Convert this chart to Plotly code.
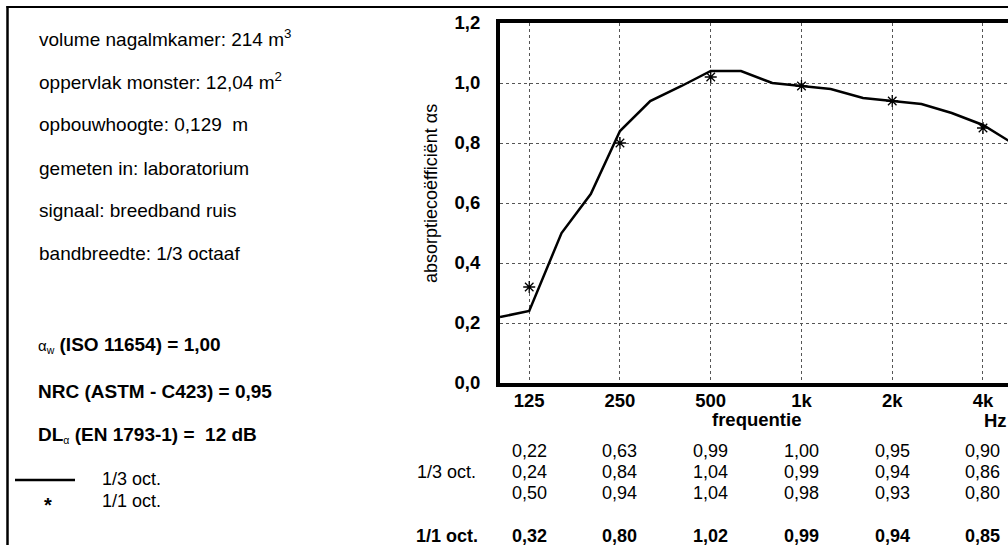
import numpy as np
import plotly.graph_objects as go

# ---------------- data ----------------
freq_third = [100, 125, 160, 200, 250, 315, 400, 500, 630, 800, 1000, 1250,
              1600, 2000, 2500, 3150, 4000, 5000]
alpha_third = [0.22, 0.24, 0.50, 0.63, 0.84, 0.94, 0.99, 1.04, 1.04, 1.00, 0.99,
               0.98, 0.95, 0.94, 0.93, 0.90, 0.86, 0.80]
freq_oct = [125, 250, 500, 1000, 2000, 4000]
alpha_oct = [0.32, 0.80, 1.02, 0.99, 0.94, 0.85]
oct_labels = ["125", "250", "500", "1k", "2k", "4k"]
y_ticks = [0.0, 0.2, 0.4, 0.6, 0.8, 1.0, 1.2]

info_lines = [
    "volume nagalmkamer: 214 m<sup>3</sup>",
    "oppervlak monster: 12,04 m<sup>2</sup>",
    "opbouwhoogte: 0,129 \u00a0m",
    "gemeten in: laboratorium",
    "signaal: breedband ruis",
    "bandbreedte: 1/3 octaaf",
]
rating_lines = [
    "<span style='font-weight:normal;font-size:15px'>\u03b1<sub>w</sub></span><b> (ISO 11654) = 1,00</b>",
    "<b>NRC (ASTM - C423) = 0,95</b>",
    "<b>DL</b><span style='font-size:15px'><sub>\u03b1</sub></span><b> (EN 1793-1) = \u00a012 dB</b>",
]
legend_labels = ["1/3 oct.", "1/1 oct."]

# ---------------- geometry helpers (pixel -> paper) ----------------
W, H = 1008, 545
L, R, T, B = 500, 1008, 23, 383


def px(x):
    return (x - L) / (R - L)


def py(y):
    return (B - y) / (B - T)


FONT = "Liberation Sans, Arial, sans-serif"

fig = go.Figure()
fig.add_trace(go.Scatter(
    x=freq_third, y=alpha_third, mode="lines",
    line=dict(color="black", width=2.5), showlegend=False, hoverinfo="skip"))
fig.add_trace(go.Scatter(
    x=freq_oct, y=alpha_oct, mode="markers",
    marker=dict(symbol="asterisk-open", size=10, color="black",
                line=dict(color="black", width=1.3)),
    showlegend=False, hoverinfo="skip"))

ann = []
# left info panel
info_y = [38, 81, 124, 168, 211, 254]
for t, yy in zip(info_lines, info_y):
    ann.append(dict(text=t, x=px(37), y=py(yy), xref="paper", yref="paper",
                    xanchor="left", yanchor="middle", showarrow=False,
                    font=dict(family=FONT, size=19, color="black")))
rating_y = [345, 392, 435]
for t, yy in zip(rating_lines, rating_y):
    ann.append(dict(text=t, x=px(36), y=py(yy), xref="paper", yref="paper",
                    xanchor="left", yanchor="middle", showarrow=False,
                    font=dict(family=FONT, size=19, color="black")))
# legend texts
for t, yy in zip(legend_labels, [479, 501]):
    ann.append(dict(text=t, x=px(100), y=py(yy), xref="paper", yref="paper",
                    xanchor="left", yanchor="middle", showarrow=False,
                    font=dict(family=FONT, size=18, color="black")))
ann.append(dict(text="<b>*</b>", x=px(48), y=py(505), xref="paper", yref="paper",
                xanchor="center", yanchor="middle", showarrow=False,
                font=dict(family=FONT, size=20, color="black")))

# axis titles
ann.append(dict(text="absorptiecoëfficiënt \u03b1s", x=px(431), y=py(194),
                xref="paper", yref="paper", textangle=-90, showarrow=False,
                xanchor="center", yanchor="middle",
                font=dict(family=FONT, size=18, color="black")))
ann.append(dict(text="<b>frequentie</b>", x=px(756), y=py(419), xref="paper",
                yref="paper", showarrow=False, xanchor="center", yanchor="middle",
                font=dict(family=FONT, size=18.5, color="black")))
ann.append(dict(text="<b>Hz</b>", x=px(995), y=py(420), xref="paper",
                yref="paper", showarrow=False, xanchor="center", yanchor="middle",
                font=dict(family=FONT, size=18.5, color="black")))

# table below the chart
rows = [alpha_third[0::3], alpha_third[1::3], alpha_third[2::3]]
row_y = [451, 472, 493]
for vals, yy in zip(rows, row_y):
    for f, v in zip(freq_oct, vals):
        ann.append(dict(text=f"{v:.2f}".replace(".", ","), x=np.log10(f), y=py(yy),
                        xref="x", yref="paper", showarrow=False,
                        xanchor="center", yanchor="middle",
                        font=dict(family=FONT, size=18, color="black")))
for f, v in zip(freq_oct, alpha_oct):
    ann.append(dict(text="<b>" + f"{v:.2f}".replace(".", ",") + "</b>", x=np.log10(f),
                    y=py(536), xref="x", yref="paper", showarrow=False,
                    xanchor="center", yanchor="middle",
                    font=dict(family=FONT, size=18, color="black")))
ann.append(dict(text="1/3 oct.", x=px(446), y=py(472), xref="paper", yref="paper",
                showarrow=False, xanchor="center", yanchor="middle",
                font=dict(family=FONT, size=18, color="black")))
ann.append(dict(text="<b>1/1 oct.</b>", x=px(447), y=py(536), xref="paper",
                yref="paper", showarrow=False, xanchor="center", yanchor="middle",
                font=dict(family=FONT, size=18, color="black")))

shapes = [
    # outer frame
    dict(type="line", xref="paper", yref="paper", x0=px(6.5), x1=px(1010),
         y0=py(7), y1=py(7), line=dict(color="black", width=2)),
    dict(type="line", xref="paper", yref="paper", x0=px(7.5), x1=px(7.5),
         y0=py(6), y1=py(560), line=dict(color="black", width=2.5)),
    # legend line
    dict(type="line", xref="paper", yref="paper", x0=px(15), x1=px(75),
         y0=py(480), y1=py(480), line=dict(color="black", width=2.5)),
]

fig.update_layout(
    width=W, height=H, autosize=False,
    margin=dict(l=L, r=W - R, t=T, b=H - B, pad=0),
    paper_bgcolor="white", plot_bgcolor="white",
    separators=",.",
    font=dict(family=FONT, color="black"),
    annotations=ann, shapes=shapes, showlegend=False,
    xaxis=dict(type="log", range=[2, 3.685], tickvals=freq_oct, ticktext=oct_labels,
               tickfont=dict(family=FONT, size=18.5, weight="bold", color="black"),
               showgrid=True, gridcolor="#555555", griddash="dot", gridwidth=1,
               showline=True, linecolor="black", linewidth=3.5, mirror=True,
               ticks="", ticklabelstandoff=-2, zeroline=False),
    yaxis=dict(range=[0, 1.2], tickvals=y_ticks, tickformat=".1f",
               tickfont=dict(family=FONT, size=18.5, weight="bold", color="black"),
               showgrid=True, gridcolor="#555555", griddash="dot", gridwidth=1,
               showline=True, linecolor="black", linewidth=4, mirror=False,
               ticks="", ticklabelstandoff=12, zeroline=False),
)

fig.write_html("out.html", config={"displayModeBar": False},
               post_script="document.body.style.margin='0';")
